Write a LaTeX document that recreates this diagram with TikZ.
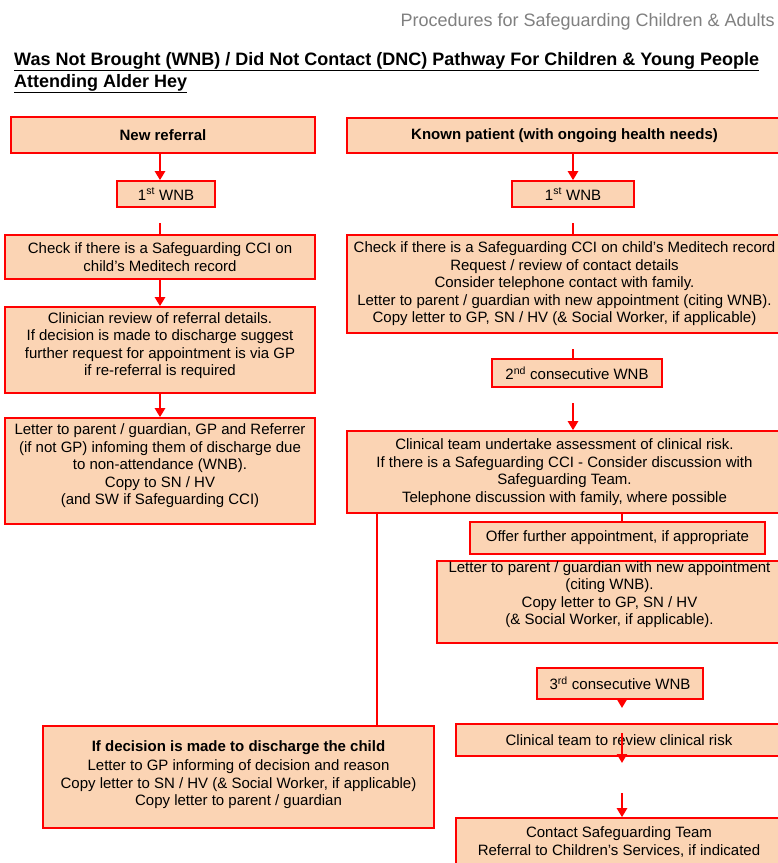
\documentclass[tikz,border=0pt]{standalone}
\usepackage{fontspec}
\setmainfont{Liberation Sans}
\usetikzlibrary{arrows.meta}
\definecolor{peach}{HTML}{FBD4B4}
\definecolor{hdrgray}{HTML}{808080}
\newcommand\liftup[2]{\raisebox{#1}[\height][\depth]{\begin{tabular}{@{}c@{}}#2\end{tabular}}}
\begin{document}
\begin{tikzpicture}[x=1pt,y=-1pt,
  box/.style={draw=red, fill=peach, line width=1.6pt, inner sep=0pt, align=center,
    font=\fontsize{15}{17.5}\selectfont},
  flow/.style={draw=red, line width=2.8pt, -{Triangle[length=9pt,width=10pt]}},
  stub/.style={draw=red, line width=2.8pt},
  ttl/.style={anchor=base west, inner sep=0pt, font=\fontsize{18}{22}\selectfont\bfseries}]
\useasboundingbox (0,0) rectangle (778,863);
\clip (0,0) rectangle (778,863);
\fill[white] (0,0) rectangle (778,863);

% header and title
\node[anchor=base east, inner sep=0pt, text=hdrgray, font=\fontsize{18}{22}\selectfont] (hdr) at (775,26.7)
  {Procedures for Safeguarding Children \& Adults};
\node[ttl] (t1) at (14,65) {\underline{Was Not Brought (WNB) / Did Not Contact (DNC) Pathway For Children \& Young People}};
\node[ttl] (t2) at (14,87.3) {\underline{Attending Alder Hey}};

% column x positions
\coordinate (xL) at (160,0);
\coordinate (xR) at (573,0);
\coordinate (xR2) at (622,0);
\coordinate (xD) at (377,0);

% left column
\node[box, minimum width=304, minimum height=36] (nr) at (163,135) {\textbf{New referral}};
\node[box, minimum width=98, minimum height=26] (w1L) at (166,194) {1\textsuperscript{st} WNB};
\node[box, minimum width=310, minimum height=44] (chkL) at (160,257)
  {Check if there is a Safeguarding CCI on\\child's Meditech record};
\node[box, minimum width=310, minimum height=86] (clinL) at (160,350)
  {\liftup{4pt}{Clinician review of referral details.\\If decision is made to discharge suggest\\further request for appointment is via GP\\if re-referral is required}};
\node[box, minimum width=310, minimum height=106] (letL) at (160,471)
  {\liftup{5pt}{Letter to parent / guardian, GP and Referrer\\(if not GP) infoming them of discharge due\\to non-attendance (WNB).\\Copy to SN / HV\\(and SW if Safeguarding CCI)}};

% right column
\node[box, minimum width=435, minimum height=35] (kp) at (564.5,135.5) {\textbf{Known patient (with ongoing health needs)}};
\node[box, minimum width=122, minimum height=26] (w1R) at (573,194) {1\textsuperscript{st} WNB};
\node[box, minimum width=435, minimum height=98] (chkR) at (564.5,284)
  {Check if there is a Safeguarding CCI on child's Meditech record\\Request / review of contact details\\Consider telephone contact with family.\\Letter to parent / guardian with new appointment (citing WNB).\\Copy letter to GP, SN / HV (\& Social Worker, if applicable)};
\node[box, minimum width=170, minimum height=28] (w2) at (577,373) {2\textsuperscript{nd} consecutive WNB};
\node[box, minimum width=435, minimum height=82] (clin) at (564.5,472)
  {Clinical team undertake assessment of clinical risk.\\If there is a Safeguarding CCI - Consider discussion with\\Safeguarding Team.\\Telephone discussion with family, where possible};
\node[box, minimum width=295, minimum height=32] (offer) at (617.5,538) {Offer further appointment, if appropriate};
\node[box, minimum width=345, minimum height=82] (letR) at (609.5,602)
  {\liftup{7pt}{Letter to parent / guardian with new appointment\\(citing WNB).\\Copy letter to GP, SN / HV\\(\& Social Worker, if applicable).}};
\node[box, minimum width=166, minimum height=31] (w3) at (620,683.5) {3\textsuperscript{rd} consecutive WNB};
\node[box, minimum width=326, minimum height=32] (rev) at (619,740) {Clinical team to review clinical risk};
\node[box, minimum width=326, minimum height=48] (contact) at (619,842)
  {Contact Safeguarding Team\\Referral to Children's Services, if indicated};
\node[box, minimum width=391, minimum height=102] (dis) at (238.5,777)
  {\liftup{2pt}{\textbf{If decision is made to discharge the child}\\[2pt]Letter to GP informing of decision and reason\\Copy letter to SN / HV (\& Social Worker, if applicable)\\Copy letter to parent / guardian}};

% free ends of the stubs
\coordinate (sL1) at (160,223);
\coordinate (sR1) at (573,223);
\coordinate (sR2) at (573,349);
\coordinate (sR3) at (573,403);
\coordinate (t3) at (622,708);
\coordinate (r1) at (622,733);
\coordinate (r2) at (622,763);
\coordinate (c1) at (622,793);

% left connectors
\draw[flow] (nr.south -| xL) -- (w1L.north -| xL);
\draw[stub] (sL1) -- (chkL.north -| xL);
\draw[flow] (chkL.south -| xL) -- (clinL.north -| xL);
\draw[flow] (clinL.south -| xL) -- (letL.north -| xL);

% right connectors
\draw[flow] (kp.south -| xR) -- (w1R.north -| xR);
\draw[stub] (sR1) -- (chkR.north -| xR);
\draw[stub] (sR2) -- (w2.north -| xR);
\draw[flow] (sR3) -- (clin.north -| xR);
\draw[stub] (clin.south -| xD) -- (dis.north -| xD);
\draw[stub] (clin.south -| xR2) -- (offer.north -| xR2);
\draw[flow] (w3.south -| xR2) -- (t3);
\draw[flow] (r1) -- (r2);
\draw[flow] (c1) -- (contact.north -| xR2);
\end{tikzpicture}
\end{document}
